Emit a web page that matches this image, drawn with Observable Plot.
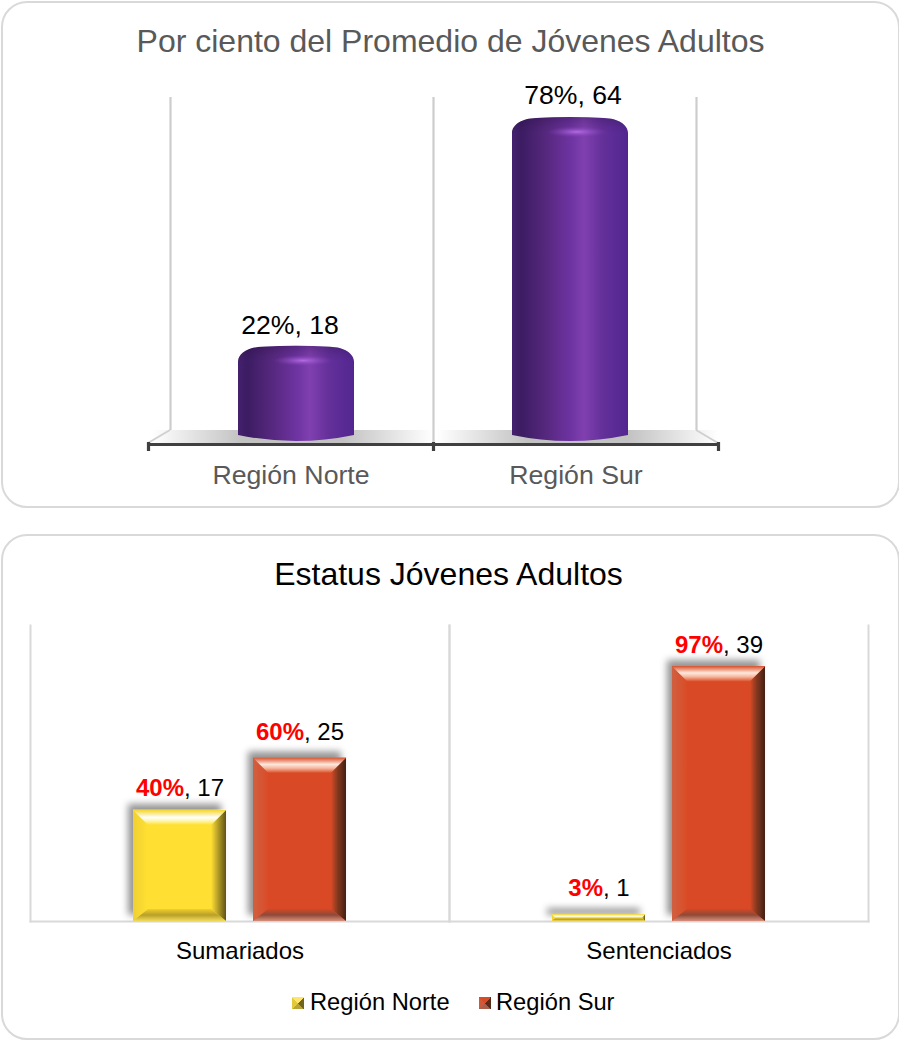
<!DOCTYPE html>
<html lang="es">
<head>
<meta charset="utf-8">
<script src="https://cdn.jsdelivr.net/npm/d3@7"></script>
<script src="https://cdn.jsdelivr.net/npm/@observablehq/plot@0.6"></script>
<style>
  html, body { margin: 0; padding: 0; background: #fff; overflow: hidden; }
  body { width: 899px; height: 1040px; position: relative; font-family: "Liberation Sans", Arial, sans-serif; }
  .card { position: absolute; left: 1px; width: 895px; border: 2px solid #d9d9d9; border-radius: 26px; box-sizing: content-box; }
  .title { position: absolute; width: 899px; text-align: center; white-space: nowrap; }
  .chart { position: absolute; left: 0; }
  .chart svg { display: block; background: transparent; max-width: none; }
  .legend { position: absolute; top: 987px; left: 0; width: 899px; height: 30px; font-size: 23.7px; color: #000; }
  .legend span { position: absolute; top: 0; line-height: 30px; white-space: nowrap; }
  .legend i { position: absolute; top: 10px; width: 12px; height: 12px; display: block; }
</style>
</head>
<body>
<div class="card" style="top:1px;height:503px"></div>
<div class="card" style="top:534px;height:502px"></div>
<div class="title" style="left:1px;top:22px;font-size:32px;line-height:38px;color:#595959">Por ciento del Promedio de Jóvenes Adultos</div>
<div class="title" style="left:-1px;top:555px;font-size:32px;line-height:38px;color:#000">Estatus Jóvenes Adultos</div>
<div class="chart" id="c1" style="top:0"></div>
<div class="chart" id="c2" style="top:534px"></div>
<div class="legend">
  <i style="left:292px;background:conic-gradient(from 45deg,#6f6420 0 25%,#b8a23a 25% 50%,#e0c93c 50% 75%,#ffe66a 75% 100%)"></i>
  <span style="left:310px">Región Norte</span>
  <i style="left:479px;background:conic-gradient(from 45deg,#5c2a18 0 25%,#a8604c 25% 50%,#cf5a38 50% 75%,#d94a26 75% 100%)"></i>
  <span style="left:496px">Región Sur</span>
</div>
<script>
// ---------- data ----------
const regions = ["Región Norte", "Región Sur"];
const promedioValues = [18, 64];
const promedioPct = ["22%", "78%"];
const estatusCategories = ["Sumariados", "Sentenciados"];
const norteValues = [17, 1];
const surValues = [25, 39];
const nortePct = ["40%", "3%"];
const surPct = ["60%", "97%"];

const promedio = regions.map((r, i) => ({region: r, value: promedioValues[i], label: `${promedioPct[i]}, ${promedioValues[i]}`}));
const estatus = estatusCategories.flatMap((c, i) => [
  {category: c, region: regions[0], value: norteValues[i], label: `${nortePct[i]}, ${norteValues[i]}`},
  {category: c, region: regions[1], value: surValues[i], label: `${surPct[i]}, ${surValues[i]}`}
]);

// ---------- helpers ----------
const NS = "http://www.w3.org/2000/svg";
const el = (name, attrs, parent) => {
  const n = document.createElementNS(NS, name);
  for (const k in attrs) n.setAttribute(k, attrs[k]);
  if (parent) parent.appendChild(n);
  return n;
};
const grad = (defs, id, stops, dir) => {
  const g = el("linearGradient", Object.assign({id}, dir), defs);
  stops.forEach(([o, c, a]) => el("stop", {offset: o, "stop-color": c, "stop-opacity": a == null ? 1 : a}, g));
};
const H = {x1: 0, y1: 0, x2: 1, y2: 0}, V = {x1: 0, y1: 0, x2: 0, y2: 1};

function defs1() {
  const d = el("defs", {});
  grad(d, "cyl", [[0, "#44216e"], [.08, "#3c1c62"], [.3, "#57287f"], [.5, "#6d33a0"], [.62, "#8040b0"], [.78, "#64309a"], [1, "#522690"]], H);
  grad(d, "capShade", [[0, "#1c0a33", .28], [.6, "#1c0a33", .08], [1, "#1c0a33", 0]], V);
  const r = el("radialGradient", {id: "capGlow"}, d);
  el("stop", {offset: 0, "stop-color": "#b56ae6", "stop-opacity": 1}, r);
  el("stop", {offset: 1, "stop-color": "#8040b0", "stop-opacity": 0}, r);
  grad(d, "floorG", [[0, "#ffffff"], [.32, "#c2c2c2"], [.68, "#c2c2c2"], [1, "#ffffff"]], H);
  return d;
}

// floor of the 3-D chart, derived from the band scale
function floor(index, {x}, values, dims) {
  const g = el("g", {});
  const step = x.bandwidth ? x.bandwidth() : (dims.width - dims.marginLeft - dims.marginRight) / regions.length;
  const y0 = dims.height - dims.marginBottom;
  regions.forEach(r => {
    const xl = x(r);
    el("rect", {x: xl + 4, y: y0 - 5, width: step - 4, height: 13, fill: "url(#floorG)"}, g);
  });
  const xa = x(regions[0]), xb = x(regions[regions.length - 1]) + step;
  el("line", {x1: xa, y1: y0 + 8, x2: xa + 22, y2: y0 - 5, stroke: "#d0d0d0", "stroke-width": 2}, g);
  el("line", {x1: xb, y1: y0 + 8, x2: xb - 22, y2: y0 - 5, stroke: "#d0d0d0", "stroke-width": 2}, g);
  return g;
}

// cylinder drawn from the bar's own rectangle
function cylinder(index, scales, values, dims, ctx, next) {
  const g = next(index, scales, values, dims, ctx);
  g.querySelectorAll("rect").forEach(rect => {
    const x0 = +rect.getAttribute("x"), w = +rect.getAttribute("width");
    const t = +rect.getAttribute("y"), h = +rect.getAttribute("height");
    const x1 = x0 + w, b = t + h, cx = x0 + w / 2;
    const top = `C${x0},${t + 8} ${x0 + 10},${t + 1.5} ${x0 + 24},${t + 1.2} Q${cx},${t - 1} ${x1 - 24},${t + 1.2} C${x1 - 10},${t + 1.5} ${x1},${t + 8} ${x1},${t + 16}`;
    el("path", {d: `M${x0},${b} L${x0},${t + 16} ${top} L${x1},${b} Q${cx},${b + 12} ${x0},${b} Z`, fill: "url(#cyl)"}, g);
    el("path", {d: `M${x0},${t + 16} ${top} Q${cx},${t + 12} ${x0},${t + 16} Z`, fill: "url(#capShade)"}, g);
    el("ellipse", {cx: cx + 7, cy: t + 15, rx: 30, ry: 5.5, fill: "url(#capGlow)"}, g);
    rect.remove();
  });
  return g;
}

const bevelColors = {
  "#ffe033": {
    top: [[0, "#f5d52c"], [.5, "#ffffff"], [.72, "#fff6b0"], [1, "#ffe033"]],
    left: [[0, "#f0d030"], [1, "#ffe033"]],
    right: [[0, "#ffe033"], [.45, "#b8a028"], [1, "#5f5318"]],
    bottom: [[0, "#f0cf2e"], [.5, "#b89f2a"], [1, "#f2dc5a"]]
  },
  "#d94a26": {
    top: [[0, "#d8532f"], [.45, "#ffe8dc"], [.7, "#f6b8a0"], [1, "#dd5630"]],
    left: [[0, "#d06040"], [1, "#da4c28"]],
    right: [[0, "#d94a26"], [.4, "#8a3a20"], [1, "#432014"]],
    bottom: [[0, "#cf4a28"], [.5, "#8f4a38"], [1, "#d78f7a"]]
  }
};
function defs2() {
  const d = el("defs", {});
  const f = el("filter", {id: "bevelShadow", filterUnits: "userSpaceOnUse", x: 0, y: 0, width: 899, height: 506}, d);
  el("feDropShadow", {dx: -5, dy: -6, stdDeviation: 3.8, "flood-color": "#000", "flood-opacity": .42}, f);
  Object.entries(bevelColors).forEach(([c, p]) => {
    const k = c.slice(1);
    grad(d, `t${k}`, p.top, V);
    grad(d, `l${k}`, p.left, H);
    grad(d, `r${k}`, p.right, H);
    grad(d, `b${k}`, p.bottom, V);
  });
  return d;
}

// bevelled block drawn from the bar's own rectangle
function bevel(index, scales, values, dims, ctx, next) {
  const g = next(index, scales, values, dims, ctx);
  g.querySelectorAll("rect").forEach(rect => {
    const x0 = +rect.getAttribute("x"), w = +rect.getAttribute("width");
    const t = +rect.getAttribute("y"), h = +rect.getAttribute("height");
    const fill = rect.getAttribute("fill"), k = fill.slice(1);
    const x1 = x0 + w, b1 = t + h;
    const st = Math.min(15, h / 2), sb = Math.min(12, h / 2), s = Math.min(15, h / 2);
    const group = el("g", {filter: "url(#bevelShadow)"}, g);
    el("rect", {x: x0, y: t, width: w, height: h, fill}, group);
    el("path", {d: `M${x0},${t} L${x0 + s},${t + st} L${x0 + s},${b1 - sb} L${x0},${b1} Z`, fill: `url(#l${k})`}, group);
    el("path", {d: `M${x1},${t} L${x1 - s},${t + st} L${x1 - s},${b1 - sb} L${x1},${b1} Z`, fill: `url(#r${k})`}, group);
    el("path", {d: `M${x0},${t} L${x1},${t} L${x1 - s},${t + st} L${x0 + s},${t + st} Z`, fill: `url(#t${k})`}, group);
    el("path", {d: `M${x0},${b1} L${x0 + s},${b1 - sb} L${x1 - s},${b1 - sb} L${x1},${b1} Z`, fill: `url(#b${k})`}, group);
    rect.remove();
  });
  return g;
}

// "40%, 17" -> bold red percentage followed by the black count
function redPct(index, scales, values, dims, ctx, next) {
  const g = next(index, scales, values, dims, ctx);
  g.querySelectorAll("text").forEach(t => {
    const [pct, n] = t.textContent.split(", ");
    t.textContent = "";
    el("tspan", {"font-weight": "bold", fill: "#ff0000"}, t).textContent = pct;
    el("tspan", {fill: "#000"}, t).textContent = `, ${n}`;
  });
  return g;
}

const font = '"Liberation Sans", Arial, sans-serif';

// ---------- chart 1 ----------
const step1 = 285;
const depth = 22;
const tickStyle = {x: d => d, stroke: "#404040", strokeWidth: 3.2, insetTop: 345, insetBottom: -16};
const c1 = Plot.plot({
  width: 899, height: 507,
  marginLeft: 148, marginRight: 181, marginTop: 97, marginBottom: 72,
  style: {fontFamily: font, background: "transparent"},
  x: {domain: regions, padding: 0, axis: null},
  y: {domain: [0, 68], axis: null},
  marks: [
    defs1,
    floor,
    Plot.ruleX([regions[0]], {x: d => d, dx: -step1 / 2 + depth, stroke: "#cdcdcd", strokeWidth: 2.2, insetBottom: 5}),
    Plot.ruleX([regions[1]], {x: d => d, dx: -step1 / 2, stroke: "#cdcdcd", strokeWidth: 2.2, insetBottom: -8}),
    Plot.ruleX([regions[1]], {x: d => d, dx: step1 / 2 - depth, stroke: "#cdcdcd", strokeWidth: 2.2, insetBottom: 5}),
    Plot.barY([promedio[0]], {x: "region", y: "value", fill: "#6d33a0", insetLeft: 84.5, insetRight: 84.5, dx: 5.5, render: cylinder}),
    Plot.barY([promedio[1]], {x: "region", y: "value", fill: "#6d33a0", insetLeft: 84.5, insetRight: 84.5, dx: -5.5, render: cylinder}),
    Plot.text([promedio[0]], {x: "region", y: "value", text: "label", fontSize: 26.6, fill: "#000", lineAnchor: "bottom", dy: -12, dx: -1}),
    Plot.text([promedio[1]], {x: "region", y: "value", text: "label", fontSize: 26.6, fill: "#000", lineAnchor: "bottom", dy: -13, dx: -3}),
    // axis line and ticks, from the same band scale
    Plot.ruleY([0], {dy: 9, stroke: "#404040", strokeWidth: 3}),
    Plot.tickX([regions[0]], {...tickStyle, dx: -step1 / 2}),
    Plot.tickX([regions[1]], {...tickStyle, dx: -step1 / 2}),
    Plot.tickX([regions[1]], {...tickStyle, dx: step1 / 2}),
    Plot.axisX({tickSize: 0, tickPadding: 30, fontSize: 26.7, fill: "#595959", label: null})
  ]
});
document.getElementById("c1").append(c1);

// ---------- chart 2 ----------
const labelText = {fx: "category", x: "region", y: "value", text: "label", fontSize: 24, fill: "#000", lineAnchor: "bottom", render: redPct};
const liftedLabels = new Set(["60%, 25", "3%, 1"]);
const c2 = Plot.plot({
  width: 899, height: 506,
  marginLeft: 29, marginRight: 31, marginTop: 91, marginBottom: 119,
  style: {fontFamily: font, background: "transparent"},
  fx: {domain: estatusCategories, padding: 0, label: null},
  x: {domain: regions, paddingInner: .225, paddingOuter: .858, axis: null},
  y: {domain: [0, 45.3], axis: null},
  color: {domain: regions, range: ["#ffe033", "#d94a26"]},
  marks: [
    defs2,
    Plot.frame({anchor: "left", stroke: "#d9d9d9", strokeWidth: 2}),
    Plot.frame({anchor: "right", stroke: "#d9d9d9", strokeWidth: 2}),
    Plot.frame({anchor: "bottom", stroke: "#d9d9d9", strokeWidth: 2}),
    Plot.barY(estatus, {fx: "category", x: "region", y: "value", fill: "region", render: bevel}),
    Plot.text(estatus.filter(d => !liftedLabels.has(d.label)), {...labelText, dy: -14}),
    Plot.text(estatus.filter(d => liftedLabels.has(d.label)), {...labelText, dy: -18.5}),
    Plot.axisFx({anchor: "bottom", tickSize: 0, tickPadding: 20, fontSize: 24, fill: "#000", label: null})
  ]
});
document.getElementById("c2").append(c2);
</script>
</body>
</html>
